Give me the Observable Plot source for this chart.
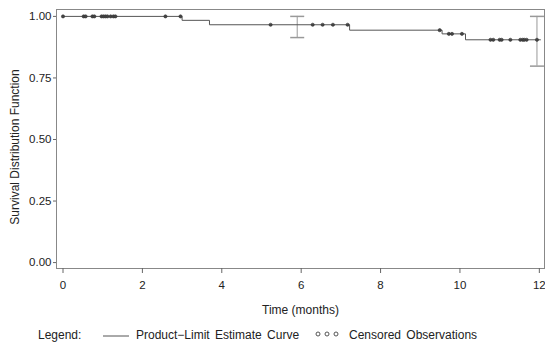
<!DOCTYPE html>
<html>
<head>
<meta charset="utf-8">
<script src="https://cdn.jsdelivr.net/npm/d3@7"></script>
<script src="https://cdn.jsdelivr.net/npm/@observablehq/plot@0.6"></script>
<style>
  body { margin: 0; background: #fff; font-family: "Liberation Sans", Arial, sans-serif; }
  #legend { position: relative; height: 25px; font-size: 12px; color: #222; word-spacing: 2px; }
  #legend span, #legend svg { position: absolute; top: 3px; }
</style>
</head>
<body>
<div id="chart"></div>
<div id="legend">
  <span style="left:38px">Legend:</span>
  <svg style="left:101px;top:5px" width="30" height="12"><line x1="2" x2="28" y1="6" y2="6" stroke="#555" stroke-width="1"/></svg>
  <span style="left:136px">Product−Limit Estimate Curve</span>
  <svg style="left:314px;top:4px" width="30" height="12">
    <circle cx="4" cy="5" r="2" fill="none" stroke="#555"/>
    <circle cx="13" cy="5" r="2" fill="none" stroke="#555"/>
    <circle cx="22" cy="5" r="2" fill="none" stroke="#555"/>
  </svg>
  <span style="left:349px">Censored Observations</span>
</div>
<script>
// Product-limit estimate step points (time, survival)
const stepTimes = [0, 3.0, 3.69, 7.22, 9.55, 10.14, 12.03];
const stepSurv  = [1.0, 0.984, 0.966, 0.944, 0.929, 0.905, 0.905];

// Censored observations
const censTimes = [0.0, 0.52, 0.57, 0.74, 0.79, 0.97, 1.02, 1.07, 1.12, 1.2, 1.27, 1.32, 2.58, 2.96,
                   5.23, 6.29, 6.54, 6.8, 7.17,
                   9.49, 9.72, 9.8, 10.05,
                   10.77, 10.84, 11.0, 11.05, 11.27, 11.52, 11.58, 11.62, 11.68, 11.94];
const censSurv  = [1, 1, 1, 1, 1, 1, 1, 1, 1, 1, 1, 1, 1, 1,
                   0.966, 0.966, 0.966, 0.966, 0.966,
                   0.944, 0.929, 0.929, 0.929,
                   0.905, 0.905, 0.905, 0.905, 0.905, 0.905, 0.905, 0.905, 0.905, 0.905];

// Confidence bars
const ciTimes = [5.9, 11.94];
const ciLow   = [0.914, 0.798];
const ciHigh  = [1.0, 1.0];

const xTicks = [0, 2, 4, 6, 8, 10, 12];
const yTicks = [0, 0.25, 0.5, 0.75, 1.0];

const steps = stepTimes.map((t, i) => ({t, s: stepSurv[i]}));
const cens = censTimes.map((t, i) => ({t, s: censSurv[i]}));
const ci = ciTimes.map((t, i) => ({t, lo: ciLow[i], hi: ciHigh[i]}));

const cap = {draw(ctx) { ctx.moveTo(-7, 0); ctx.lineTo(7, 0); }};

const chart = Plot.plot({
  width: 545,
  height: 325,
  marginLeft: 56,
  marginRight: 1,
  marginTop: 9,
  marginBottom: 57,
  style: {fontFamily: "Liberation Sans, Arial, sans-serif", fontSize: "11.5px", color: "#222", background: "#fff"},
  x: {domain: [-0.164, 12.13], ticks: xTicks, tickFormat: d => d, label: null},
  y: {domain: [-0.024, 1.028], ticks: yTicks, tickFormat: d3.format(".2f"), label: null},
  marks: [
    Plot.frame({stroke: "#888"}),
    Plot.axisY({ticks: yTicks, tickFormat: d3.format(".2f"), tickSize: 3, tickPadding: 2, stroke: "#666", label: null}),
    Plot.axisX({ticks: xTicks, tickSize: 5, tickPadding: 7, stroke: "#666", label: null}),
    Plot.text(["Survival Distribution Function"], {frameAnchor: "left", textAnchor: "middle", dx: -41, dy: 8, rotate: -90, fontSize: 12, fill: "#222"}),
    Plot.text(["Time (months)"], {frameAnchor: "bottom", dy: 45, fontSize: 12, fill: "#222"}),
    Plot.ruleX(ci, {x: "t", y1: "lo", y2: "hi", stroke: "#999", strokeWidth: 1}),
    Plot.dot(ci, {x: "t", y: "lo", symbol: cap, stroke: "#999", fill: "none"}),
    Plot.dot(ci, {x: "t", y: "hi", symbol: cap, stroke: "#999", fill: "none"}),
    Plot.line(steps, {x: "t", y: "s", curve: "step-after", stroke: "#555", strokeWidth: 1}),
    Plot.dot(cens, {x: "t", y: "s", r: 1.6, fill: "#444", stroke: "#333", strokeWidth: 0.6})
  ]
});
document.getElementById("chart").appendChild(chart);
</script>
</body>
</html>
